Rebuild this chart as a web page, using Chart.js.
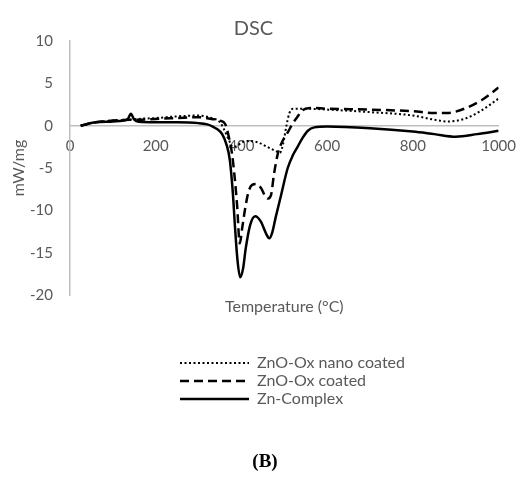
<!DOCTYPE html>
<html>
<head>
<meta charset="utf-8">
<script src="https://cdn.jsdelivr.net/npm/chart.js@4.4.1/dist/chart.umd.min.js"></script>
<style>
  html, body { margin: 0; padding: 0; background: #fff; }
  #wrap { width: 527px; height: 492px; }
</style>
</head>
<body>
<div id="wrap"><canvas id="dscChart" width="527" height="492"></canvas></div>
<script>
// series (temperature in °C, heat flow in mW/mg)
const seriesNames = ['ZnO-Ox nano coated', 'ZnO-Ox coated', 'Zn-Complex'];

const nanoTemp = [25, 60, 100, 140, 160, 200, 250, 300, 330, 350, 360, 370, 380, 390, 400, 420, 440, 460, 480, 490, 497, 505, 512, 520, 550, 600, 700, 800, 850, 880, 920, 960, 1000];
const nanoVal  = [0, 0.4, 0.6, 0.7, 0.8, 0.9, 1.1, 1.2, 0.9, 0.4, -0.5, -1.6, -2.5, -2.4, -2.0, -1.8, -2.0, -2.5, -3.0, -3.2, -2.2, 0, 1.5, 2.0, 2.0, 1.9, 1.6, 1.2, 0.7, 0.5, 0.8, 1.8, 3.2];

const coatedTemp = [25, 60, 100, 140, 160, 200, 250, 300, 330, 350, 362, 370, 378, 384, 390, 396, 402, 408, 416, 425, 435, 446, 455, 462, 469, 476, 485, 496, 508, 519, 530, 542, 560, 600, 700, 800, 850, 880, 920, 960, 1000];
const coatedVal  = [0, 0.4, 0.6, 0.7, 0.7, 0.8, 0.9, 1.0, 0.8, 0.6, 0.2, -1.2, -3.3, -6, -9.5, -13.9, -12, -10, -7.9, -7.0, -6.9, -7.4, -8.3, -8.6, -8.2, -5.7, -3.3, -1.8, -0.8, 0.2, 1.0, 1.8, 2.1, 2.0, 1.9, 1.7, 1.5, 1.5, 2.0, 3.0, 4.5];

const complexTemp = [25, 40, 60, 100, 125, 135, 142, 150, 160, 200, 250, 300, 320, 333, 343, 355, 365, 373, 380, 385, 391, 397, 404, 410, 420, 432, 445, 458, 465, 472, 480, 492, 508, 520, 530, 542, 555, 570, 600, 700, 800, 850, 900, 950, 1000];
const complexVal  = [0, 0.2, 0.4, 0.5, 0.6, 0.8, 1.4, 0.7, 0.45, 0.4, 0.4, 0.3, 0.15, -0.1, -0.4, -1.0, -2.2, -4.1, -8, -12, -16, -17.9, -16.8, -14.5, -11.8, -10.7, -11.3, -12.8, -13.3, -12.6, -10.8, -8.3, -5, -3.5, -2.6, -1.5, -0.6, -0.2, -0.1, -0.3, -0.7, -1.0, -1.3, -1.0, -0.6];

const xTickValues = [0, 200, 400, 600, 800, 1000];
const yTickValues = [-20, -15, -10, -5, 0, 5, 10];

const textGray = '#595959';
const axisGray = '#bfbfbf';
const fontName = 'Lato';

function toPoints(xs, ys) {
  return xs.map((x, i) => ({ x: x, y: ys[i] }));
}

// texts below the plot: x axis title, legend, panel label
const extraText = {
  id: 'extraText',
  afterDraw(chart) {
    const ctx = chart.ctx;
    const area = chart.chartArea;
    ctx.save();
    ctx.fillStyle = textGray;
    ctx.textBaseline = 'middle';
    ctx.font = '16px ' + fontName;
    ctx.textAlign = 'center';
    ctx.fillText('Temperature (°C)', (area.left + area.right) / 2, 307);

    // legend, one row per series
    const rowY = [363, 381, 399];
    chart.data.datasets.forEach((ds, i) => {
      ctx.save();
      ctx.strokeStyle = ds.borderColor;
      ctx.lineWidth = ds.borderWidth;
      ctx.setLineDash(ds.borderDash || []);
      ctx.beginPath();
      ctx.moveTo(180, rowY[i]);
      ctx.lineTo(249, rowY[i]);
      ctx.stroke();
      ctx.restore();
      ctx.textAlign = 'left';
      ctx.fillText(ds.label, 257, rowY[i]);
    });

    ctx.fillStyle = '#000';
    ctx.textAlign = 'center';
    ctx.font = 'bold 19px "Liberation Serif"';
    ctx.fillText('(B)', 265, 462);
    ctx.restore();
  }
};

const ctx = document.getElementById('dscChart').getContext('2d');
const myChart = new Chart(ctx, {
  type: 'line',
  data: {
    datasets: [{
      label: seriesNames[0],
      data: toPoints(nanoTemp, nanoVal),
      borderColor: '#000',
      borderWidth: 2,
      borderDash: [2, 2.5],
      pointRadius: 0,
      cubicInterpolationMode: 'monotone',
      fill: false,
    }, {
      label: seriesNames[1],
      data: toPoints(coatedTemp, coatedVal),
      borderColor: '#000',
      borderWidth: 2.5,
      borderDash: [9, 5],
      pointRadius: 0,
      cubicInterpolationMode: 'monotone',
      fill: false,
    }, {
      label: seriesNames[2],
      data: toPoints(complexTemp, complexVal),
      borderColor: '#000',
      borderWidth: 2.5,
      pointRadius: 0,
      cubicInterpolationMode: 'monotone',
      fill: false,
    }],
  },
  options: {
    responsive: false,
    animation: false,
    layout: {
      padding: { left: 0, right: 20, top: 0, bottom: 197 },
    },
    plugins: {
      legend: { display: false },
      tooltip: { enabled: false },
      title: {
        display: true,
        text: 'DSC',
        color: textGray,
        font: { family: fontName, size: 20, weight: 'normal' },
        padding: { top: 17, bottom: 0 },
      },
    },
    scales: {
      x: {
        type: 'linear',
        min: 0,
        max: 1000,
        position: { y: 0 },
        afterBuildTicks: (scale) => { scale.ticks = xTickValues.map(v => ({ value: v })); },
        ticks: {
          color: textGray,
          font: { family: fontName, size: 15 },
          padding: 11,
          maxRotation: 0,
          callback: (v) => String(v),
        },
        grid: { display: false, drawTicks: false },
        border: { color: axisGray, width: 1.5 },
      },
      y: {
        min: -20,
        max: 10,
        afterBuildTicks: (scale) => { scale.ticks = yTickValues.map(v => ({ value: v })); },
        afterFit: (scale) => { scale.width = 70; },
        title: {
          display: true,
          text: 'mW/mg',
          color: textGray,
          font: { family: fontName, size: 16 },
          padding: { top: 9, bottom: 0 },
        },
        ticks: { color: textGray, font: { family: fontName, size: 15 }, padding: 17 },
        grid: { display: false, drawTicks: false },
        border: { color: axisGray, width: 1.5 },
      },
    },
  },
  plugins: [extraText],
});
</script>
</body>
</html>
